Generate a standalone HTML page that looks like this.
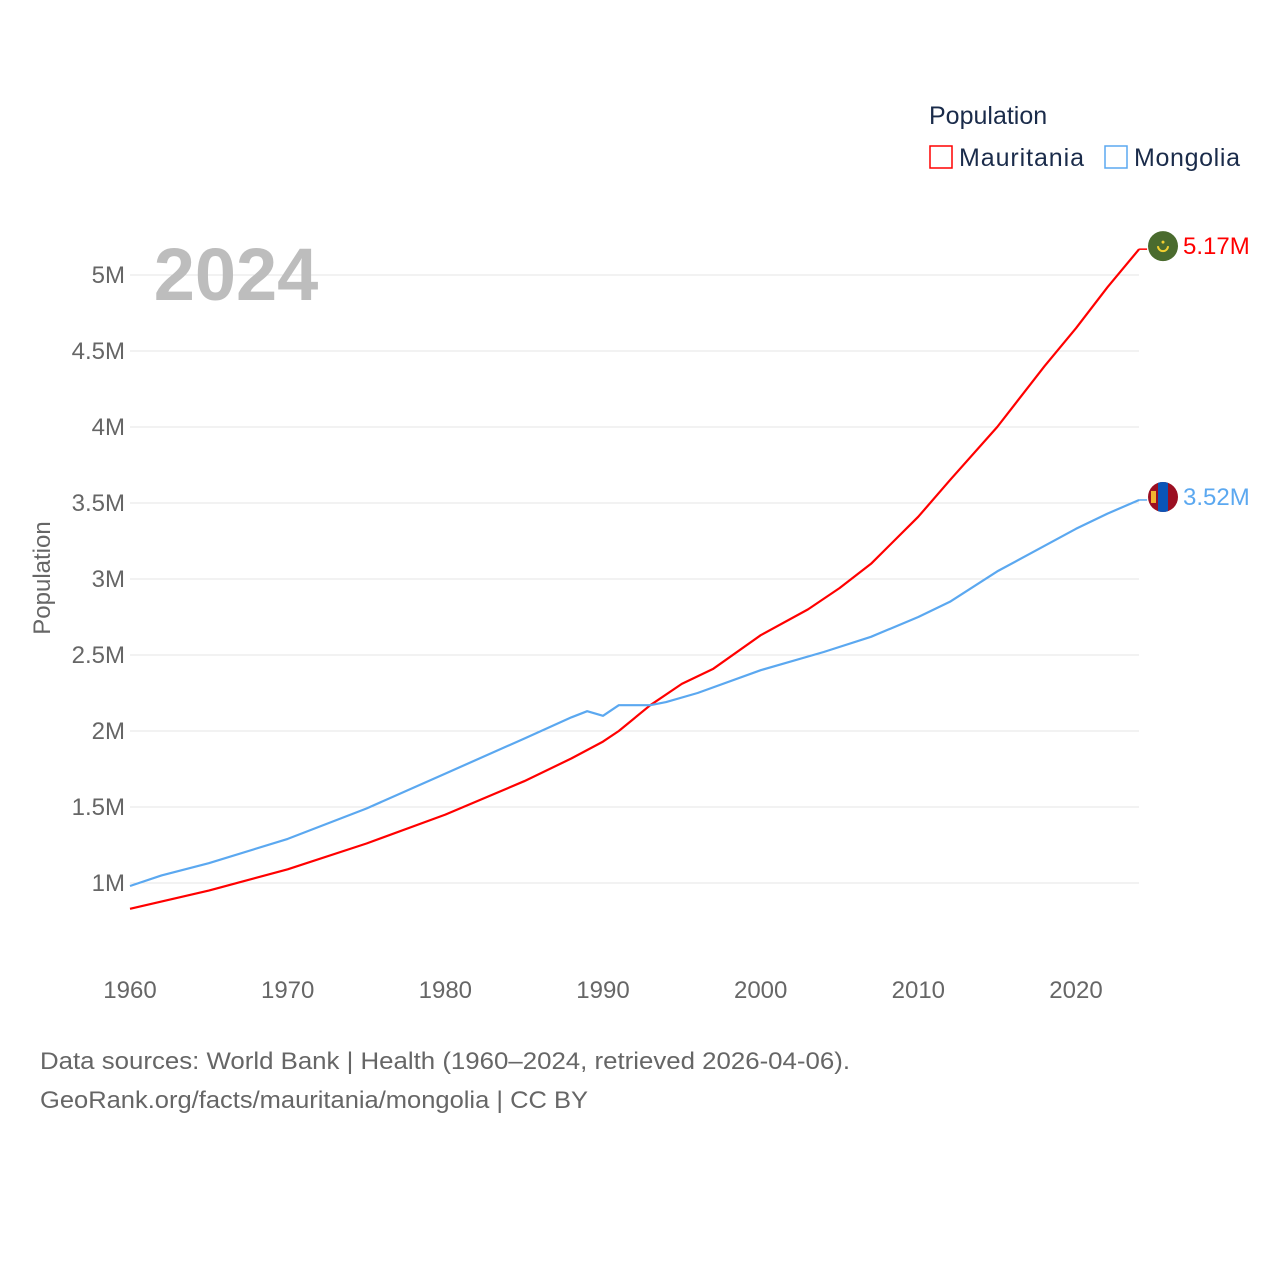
<!DOCTYPE html>
<html><head><meta charset="utf-8">
<style>
body{margin:0;background:#fff;}
svg text{font-family:"Liberation Sans",sans-serif;}
</style></head>
<body>
<svg width="1280" height="1280" viewBox="0 0 1280 1280">
<g id="grid"></g>
<g id="yticks"></g>
<g id="xticks"></g>
<text x="236" y="300" font-size="74" font-weight="bold" fill="#bdbdbd" text-anchor="middle">2024</text>
<text transform="translate(50,578) rotate(-90)" font-size="24" fill="#666" text-anchor="middle">Population</text>
<g id="series"></g>
<g>
<text x="929" y="124" font-size="25" fill="#1a2b4a">Population</text>
<rect x="930" y="146" width="22" height="22" fill="none" stroke="#ff0000" stroke-width="1.5"/>
<text x="959" y="166" font-size="25" fill="#1a2b4a" textLength="125">Mauritania</text>
<rect x="1105" y="146" width="22" height="22" fill="none" stroke="#5ba8f0" stroke-width="1.5"/>
<text x="1134" y="166" font-size="25" fill="#1a2b4a" textLength="106">Mongolia</text>
</g>
<g>
<text x="40" y="1069" font-size="24" fill="#666" textLength="810" lengthAdjust="spacingAndGlyphs">Data sources: World Bank | Health (1960–2024, retrieved 2026-04-06).</text>
<text x="40" y="1108" font-size="24" fill="#666" textLength="548" lengthAdjust="spacingAndGlyphs">GeoRank.org/facts/mauritania/mongolia | CC BY</text>
</g>
</svg>
<script>
const mrtYears=[1960,1965,1970,1975,1980,1985,1988,1990,1991,1993,1995,1997,2000,2003,2005,2007,2010,2012,2015,2018,2020,2022,2024];
const mrtValues=[0.83,0.95,1.09,1.26,1.45,1.67,1.82,1.93,2.0,2.17,2.31,2.41,2.63,2.80,2.94,3.10,3.41,3.65,4.0,4.4,4.65,4.92,5.17];
const mngYears=[1960,1962,1965,1970,1975,1980,1985,1988,1989,1990,1991,1993,1994,1996,2000,2004,2007,2010,2012,2015,2020,2022,2024];
const mngValues=[0.98,1.05,1.13,1.29,1.49,1.72,1.95,2.09,2.13,2.10,2.17,2.17,2.19,2.25,2.40,2.52,2.62,2.75,2.85,3.05,3.33,3.43,3.52];
const yTicks=[1,1.5,2,2.5,3,3.5,4,4.5,5];
const yTickLabels=["1M","1.5M","2M","2.5M","3M","3.5M","4M","4.5M","5M"];
const xTicks=[1960,1970,1980,1990,2000,2010,2020];
const endLabels=["5.17M","3.52M"];
const NS="http://www.w3.org/2000/svg";
const xs=y=>130+(y-1960)*(1076-130)/60;
const ys=v=>1035-v*152;
function mk(t,a,p){const e=document.createElementNS(NS,t);for(const k in a)e.setAttribute(k,a[k]);p.appendChild(e);return e;}
const grid=document.getElementById('grid'),yt=document.getElementById('yticks'),xt=document.getElementById('xticks'),ser=document.getElementById('series');
yTicks.forEach((v,i)=>{
 const l=mk('line',{x1:130,x2:1139,y1:ys(v),y2:ys(v),stroke:'#e6e6e6','stroke-width':1},grid);
 
 
 const t=mk('text',{x:125,y:ys(v)+8,'font-size':24,fill:'#666','text-anchor':'end'},yt);
 t.textContent=yTickLabels[i];
 
 
});
xTicks.forEach(y=>{
 const t=mk('text',{x:xs(y),y:998,'font-size':24,fill:'#666','text-anchor':'middle'},xt);
 t.textContent=y;
 
 
});
function series(years,vals,color,name,label,flag){
 const d=years.map((y,i)=>(i?'L':'M')+xs(y).toFixed(1)+','+ys(vals[i]).toFixed(1)).join(' ');
 const p=mk('path',{d:d,fill:'none',stroke:color,'stroke-width':2.2,'stroke-linejoin':'round'},ser);
 
 
 const lx=xs(years[years.length-1]),ly=ys(vals[vals.length-1]);
 const c=mk('line',{x1:lx,x2:lx+8,y1:ly,y2:ly,stroke:color,'stroke-width':1.5},ser);
 
 
 const g=mk('g',{},ser);
 
 
 flag(g,1163,ly-3);
 const t=mk('text',{x:1183,y:ly+5,'font-size':24,fill:color},ser);
 t.textContent=label;
 
 
}
series(mrtYears,mrtValues,'#ff0000','mauritania',endLabels[0],(g,x,y)=>{
 mk('circle',{cx:x,cy:y,r:15,fill:'#4a6b2e'},g);
 mk('path',{d:`M${x-5},${y} A5,5 0 0 0 ${x+5},${y}`,fill:'none',stroke:'#f2cf30','stroke-width':2},g);
 mk('circle',{cx:x,cy:y-4,r:1.5,fill:'#f2cf30'},g);
});
series(mngYears,mngValues,'#5ba8f0','mongolia',endLabels[1],(g,x,y)=>{
 const cp=mk('clipPath',{id:'mc'},g);mk('circle',{cx:x,cy:y,r:15},cp);
 const gg=mk('g',{'clip-path':'url(#mc)'},g);
 mk('rect',{x:x-15,y:y-15,width:30,height:30,fill:'#9b0f22'},gg);
 mk('rect',{x:x-5,y:y-15,width:10,height:30,fill:'#0a55b8'},gg);
 mk('rect',{x:x-12,y:y-6,width:5,height:12,fill:'#f2b530'},gg);
});
</script>
</body></html>
